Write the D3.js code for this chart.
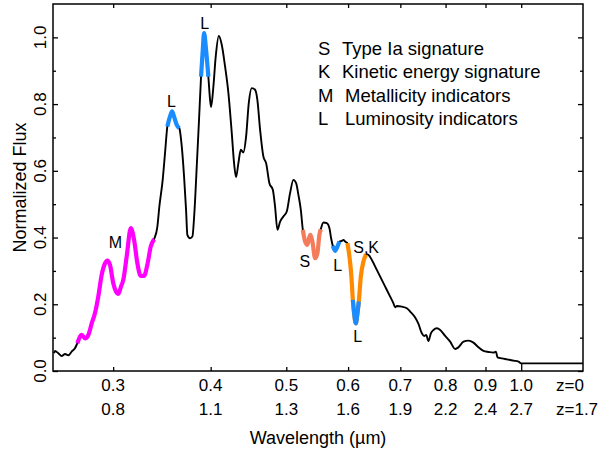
<!DOCTYPE html>
<html><head><meta charset="utf-8">
<script src="https://cdn.jsdelivr.net/npm/d3@7"></script>
<style>
body{margin:0;background:#fff}
text{font-family:"Liberation Sans",Arial,Helvetica,sans-serif;fill:#000}
</style>
</head><body><svg id="c" width="613" height="452"></svg>
<script>
// ---- data (wavelength in micron, normalized flux) ----
const wavelength = [0.252,0.2527,0.2552,0.2577,0.2603,0.2628,0.2654,0.2680,0.2699,0.2734,0.2761,0.2788,0.2816,0.2843,0.2871,0.2900,0.2929,0.2949,0.2972,0.3001,0.3025,0.3046,0.3070,0.3091,0.3122,0.3160,0.3191,0.3222,0.3254,0.3286,0.3318,0.3352,0.3385,0.3418,0.3438,0.3472,0.3496,0.3520,0.3548,0.3569,0.3590,0.3619,0.3647,0.3673,0.3698,0.3720,0.3734,0.3764,0.3790,0.3812,0.3839,0.3865,0.3888,0.3908,0.3923,0.3946,0.3973,0.3993,0.4005,0.4032,0.4060,0.4097,0.4133,0.4174,0.4215,0.4257,0.4286,0.4311,0.4341,0.4372,0.4405,0.4441,0.4476,0.4516,0.4560,0.4591,0.4628,0.4673,0.4711,0.4757,0.4805,0.4837,0.4871,0.4910,0.4957,0.5007,0.5056,0.5106,0.5147,0.5182,0.5219,0.5250,0.5286,0.5321,0.5364,0.5400,0.5444,0.5481,0.5513,0.5536,0.5579,0.5635,0.5679,0.5707,0.5736,0.5775,0.5814,0.5849,0.5890,0.5918,0.5948,0.5988,0.6024,0.6059,0.6085,0.6108,0.6139,0.6168,0.6193,0.6230,0.6278,0.6328,0.6371,0.6436,0.6531,0.6596,0.6694,0.6793,0.6859,0.6894,0.6929,0.7031,0.7136,0.7206,0.7313,0.7385,0.7459,0.7510,0.7555,0.7606,0.7660,0.7719,0.7797,0.7874,0.7990,0.8109,0.8230,0.8310,0.8434,0.8560,0.8686,0.8815,0.8947,0.9080,0.9215,0.9281,0.9324,0.9446,0.9586,0.9776,0.9921,1.0,1.2];
const flux = [0.053,0.060,0.053,0.045,0.051,0.047,0.058,0.068,0.083,0.108,0.098,0.108,0.143,0.173,0.223,0.288,0.323,0.331,0.318,0.263,0.238,0.231,0.253,0.273,0.343,0.428,0.393,0.323,0.285,0.285,0.318,0.373,0.395,0.433,0.493,0.573,0.653,0.733,0.763,0.778,0.763,0.738,0.728,0.673,0.583,0.483,0.408,0.398,0.403,0.473,0.613,0.753,0.882,0.963,1.013,0.963,0.882,0.813,0.791,0.852,0.942,1.004,0.978,0.912,0.833,0.713,0.623,0.581,0.623,0.663,0.655,0.703,0.803,0.848,0.843,0.813,0.723,0.643,0.623,0.563,0.543,0.493,0.423,0.448,0.463,0.478,0.533,0.573,0.563,0.528,0.483,0.423,0.388,0.378,0.408,0.388,0.338,0.353,0.408,0.425,0.445,0.443,0.428,0.398,0.375,0.360,0.373,0.388,0.390,0.393,0.388,0.383,0.343,0.283,0.213,0.173,0.143,0.173,0.208,0.283,0.328,0.350,0.348,0.333,0.303,0.283,0.253,0.223,0.203,0.191,0.195,0.193,0.188,0.178,0.160,0.141,0.113,0.105,0.108,0.090,0.113,0.123,0.128,0.123,0.105,0.088,0.066,0.071,0.088,0.091,0.085,0.071,0.060,0.057,0.055,0.058,0.041,0.038,0.035,0.031,0.028,0.023,0.023];

const xTicks = [0.3,0.4,0.5,0.6,0.7,0.8,0.9,1.0];
const xTickLabels = ["0.3","0.4","0.5","0.6","0.7","0.8","0.9","1.0"];
const zTickLabels = ["0.8","1.1","1.3","1.6","1.9","2.2","2.4","2.7"];
const zRowLabels = ["z=0","z=1.7"];
const yMajor = [0,0.2,0.4,0.6,0.8,1.0];
const yMinor = [0.1,0.3,0.5,0.7,0.9];

// highlighted spectral features [start, end] in micron
const segStart = [0.2699,0.3520,0.3888,0.5250,0.5736,0.5988,0.6085];
const segEnd   = [0.3385,0.3647,0.3973,0.5536,0.5849,0.6328,0.6193];
const segType  = ["M","L","L","S","L","SK","L"];

// feature labels: text, wavelength, flux
const annText = ["L","L","M","S","L","S,K","L"];
const annWl   = [0.3564,0.3931,0.3021,0.5281,0.5818,0.6328,0.6172];
const annFlux = [0.792,1.025,0.369,0.312,0.300,0.354,0.087];

const legendKeys = ["S","K","M","L"];
const legendDesc = ["Type Ia signature","Kinetic energy signature","Metallicity indicators","Luminosity indicators"];

// ---- drawing ----
const colors = {M:"#ff00ff", L:"#1a8cff", S:"#f47c5a", SK:"#ff8a00"};
const svg = d3.select("#c");
const L = 53, R = 583, T = 4, B = 371;
const x = d3.scaleLog().domain([0.2512, 1.2]).range([L, R]);
const y = d3.scaleLinear().domain([0, 1.1]).range([B, T]);

const pts = wavelength.map((w,i)=>({w, f:flux[i]}));
const line = d3.line().x(d=>x(d.w)).y(d=>y(d.f)).curve(d3.curveMonotoneX);

svg.append("path").datum(pts).attr("d", line)
  .attr("fill","none").attr("stroke","#000").attr("stroke-width",1.9).attr("stroke-linejoin","round");

segStart.forEach((s,i)=>{
  const seg = pts.filter(p=>p.w>=s-1e-9 && p.w<=segEnd[i]+1e-9);
  svg.append("path").datum(seg).attr("d", line)
    .attr("fill","none").attr("stroke",colors[segType[i]]).attr("stroke-width",4.2)
    .attr("stroke-linejoin","round");
});

// frame
svg.append("rect").attr("x",L).attr("y",T).attr("width",R-L).attr("height",B-T)
  .attr("fill","none").attr("stroke","#000").attr("stroke-width",1.5);

// axes (ticks inward)
const yl = svg.append("g").attr("transform",`translate(${L},0)`)
  .call(d3.axisLeft(y).tickValues(yMajor).tickSize(-5).tickFormat(""));
const ylm = svg.append("g").attr("transform",`translate(${L},0)`)
  .call(d3.axisLeft(y).tickValues(yMinor).tickSize(-3).tickFormat(""));
const yr = svg.append("g").attr("transform",`translate(${R},0)`)
  .call(d3.axisRight(y).tickValues(yMajor).tickSize(-5).tickFormat(""));
const yrm = svg.append("g").attr("transform",`translate(${R},0)`)
  .call(d3.axisRight(y).tickValues(yMinor).tickSize(-3).tickFormat(""));
const xb = svg.append("g").attr("transform",`translate(0,${B})`)
  .call(d3.axisBottom(x).tickValues(xTicks).tickSize(-4).tickFormat(""));
const xt = svg.append("g").attr("transform",`translate(0,${T})`)
  .call(d3.axisTop(x).tickValues(xTicks).tickSize(-4).tickFormat(""));
[yl,ylm,yr,yrm,xb,xt].forEach(g=>{
  g.select(".domain").remove();
  g.selectAll("line").attr("stroke","#000").attr("stroke-width",1.3);
});
// the 1.0 bottom tick reaches up to the flat continuum
xb.selectAll(".tick").filter(d=>d===1.0).select("line").attr("y2", y(flux[flux.length-1]) - B);

// y tick labels (rotated)
yMajor.forEach(v=>{
  svg.append("text").attr("transform",`translate(46,${y(v)}) rotate(-90)`)
    .attr("text-anchor","middle").attr("font-size",17).text(v.toFixed(1));
});
// x tick labels, two rows
xTicks.forEach((v,i)=>{
  svg.append("text").attr("x",x(v)).attr("y",391).attr("text-anchor","middle")
    .attr("font-size",17).text(xTickLabels[i]);
  svg.append("text").attr("x",x(v)).attr("y",415).attr("text-anchor","middle")
    .attr("font-size",17).text(zTickLabels[i]);
});
svg.append("text").attr("x",556).attr("y",391).attr("font-size",17).text(zRowLabels[0]);
svg.append("text").attr("x",556).attr("y",415).attr("font-size",17).text(zRowLabels[1]);

// axis titles
svg.append("text").attr("x",(L+R)/2).attr("y",444).attr("text-anchor","middle")
  .attr("font-size",18).text("Wavelength (\u00b5m)");
svg.append("text").attr("transform",`translate(26,${(T+B)/2}) rotate(-90)`)
  .attr("text-anchor","middle").attr("font-size",18).text("Normalized Flux");

// feature labels
annText.forEach((t,i)=>{
  svg.append("text").attr("x",x(annWl[i])).attr("y",y(annFlux[i]))
    .attr("text-anchor","middle").attr("font-size",16).text(t);
});

// legend
legendKeys.forEach((k,i)=>{
  const by = 55 + i*23.4;
  svg.append("text").attr("x",318).attr("y",by).attr("font-size",18.5).text(k);
  svg.append("text").attr("x", i<2 ? 342 : 345).attr("y",by).attr("font-size",18.5).text(legendDesc[i]);
});
</script>
</body></html>
